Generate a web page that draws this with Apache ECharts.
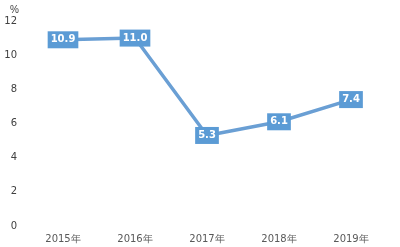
<!DOCTYPE html>
<html><head><meta charset="utf-8">
<script src="https://cdn.jsdelivr.net/npm/echarts@6/dist/echarts.min.js"></script>
<style>html,body{margin:0;padding:0;background:#fff}#c{width:400px;height:247px}</style>
</head><body><div id="c"></div>
<script>
const categories = ['2015年','2016年','2017年','2018年','2019年'];
const values = [10.9, 11.0, 5.3, 6.1, 7.4];
const yTicks = [0, 2, 4, 6, 8, 10, 12];
const unit = '%';

const chart = echarts.init(document.getElementById('c'));
chart.setOption({
  animation: false,
  grid: {left: 27, right: 13, top: 21, bottom: 21},
  xAxis: {
    type: 'category', data: categories, boundaryGap: true,
    axisLine: {show: false}, axisTick: {show: false},
    axisLabel: {color: '#595959', fontSize: 10, fontFamily: 'DejaVu Sans', margin: 8}
  },
  yAxis: {
    type: 'value', min: yTicks[0], max: yTicks[yTicks.length-1], interval: 2,
    name: unit, nameGap: 6, nameTextStyle: {color: '#404040', fontSize: 10, align: 'right', padding: [0, 8, 0, 0]},
    axisLine: {show: false}, axisTick: {show: false}, splitLine: {show: false},
    axisLabel: {color: '#404040', fontSize: 10, fontFamily: 'DejaVu Sans', margin: 10}
  },
  series: [{
    type: 'line', data: values, symbol: 'rect', symbolSize: 2, showSymbol: true,
    itemStyle: {color: '#5b9bd5'},
    lineStyle: {color: '#6a9fd4', width: 3.5},
    label: {
      show: true, position: 'inside', formatter: p => p.value.toFixed(1),
      color: '#fff', fontWeight: 'bold', fontSize: 10, fontFamily: 'DejaVu Sans',
      backgroundColor: '#5b9bd5', padding: [4, 3, 3, 3]
    }
  }]
});
</script></body></html>
